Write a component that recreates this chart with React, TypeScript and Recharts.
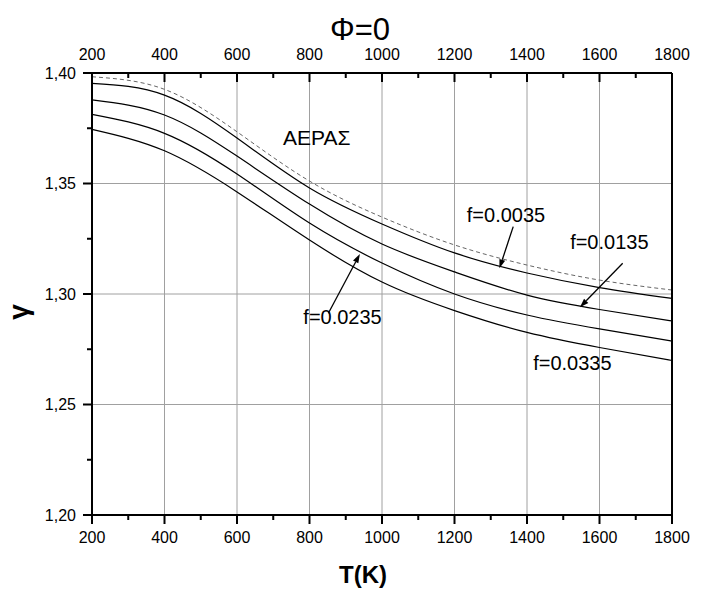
import React from 'react';
import {
  LineChart,
  Line,
  XAxis,
  YAxis,
  CartesianGrid,
  ReferenceLine,
  ReferenceDot,
  Label,
} from 'recharts';

// ---- data ----
const temperatures = [200, 400, 600, 800, 1000, 1200, 1400, 1600, 1800];
const gammaAir = [1.3983, 1.3926, 1.3734, 1.3511, 1.3348, 1.3222, 1.3131, 1.3063, 1.3018];
const gammaF0035 = [1.3953, 1.39, 1.3706, 1.348, 1.3317, 1.3186, 1.3095, 1.3029, 1.298];
const gammaF0135 = [1.3878, 1.381, 1.3624, 1.3407, 1.3226, 1.31, 1.2995, 1.293, 1.2878];
const gammaF0235 = [1.3813, 1.3727, 1.3543, 1.3321, 1.314, 1.3, 1.2905, 1.2842, 1.2787];
const gammaF0335 = [1.3745, 1.3648, 1.3462, 1.3244, 1.3054, 1.2925, 1.2826, 1.2758, 1.2699];

const xTicks = [200, 300, 400, 500, 600, 700, 800, 900, 1000, 1100, 1200, 1300, 1400, 1500, 1600, 1700, 1800];
const xMajorTicks = [200, 400, 600, 800, 1000, 1200, 1400, 1600, 1800];
const yTicks = [1.2, 1.225, 1.25, 1.275, 1.3, 1.325, 1.35, 1.375, 1.4];
const yMajorTicks = [1.2, 1.25, 1.3, 1.35, 1.4];

const titleText = 'Φ=0';
const xTitle = 'T(K)';
const yTitle = 'γ';

const labelTexts = ['ΑΕΡΑΣ', 'f=0.0035', 'f=0.0135', 'f=0.0235', 'f=0.0335'];
const labelT = [727, 1234, 1519, 783, 1417];
const labelG = [1.3674, 1.3328, 1.3204, 1.2864, 1.2656];
const labelSize = [21, 20, 20, 20, 20];

const arrowFromT = [1362, 1664, 852];
const arrowFromG = [1.3305, 1.3139, 1.2913];
const arrowToT = [1324, 1546, 939];
const arrowToG = [1.3116, 1.294, 1.3181];

const rows = temperatures.map((T, i) => ({
  T,
  air: gammaAir[i],
  f1: gammaF0035[i],
  f2: gammaF0135[i],
  f3: gammaF0235[i],
  f4: gammaF0335[i],
}));

const FONT = 'Liberation Sans, Arial, Helvetica, sans-serif';

const isMajorX = (v: number) => xMajorTicks.includes(v);
const isMajorY = (v: number) => yMajorTicks.some((m) => Math.abs(m - v) < 1e-9);
const fmtY = (v: number) => v.toFixed(2).replace('.', ',');

const BottomTick = (props: any) => {
  const { x, y, payload } = props;
  const v = payload.value;
  const major = isMajorX(v);
  return (
    <g>
      <line x1={x} y1={y} x2={x} y2={y + (major ? 9 : 5)} stroke="#000" strokeWidth={2} />
      {major && (
        <text x={x} y={y + 28} textAnchor="middle" fontSize={16} fontFamily={FONT} fill="#000">
          {v}
        </text>
      )}
    </g>
  );
};

const TopTick = (props: any) => {
  const { x, y, payload } = props;
  const v = payload.value;
  const major = isMajorX(v);
  return (
    <g>
      <line x1={x} y1={y} x2={x} y2={y + (major ? 9 : 5)} stroke="#000" strokeWidth={2} />
      {major && (
        <text x={x} y={y - 13} textAnchor="middle" fontSize={16} fontFamily={FONT} fill="#000">
          {v}
        </text>
      )}
    </g>
  );
};

const LeftTick = (props: any) => {
  const { x, y, payload } = props;
  const v = payload.value;
  const major = isMajorY(v);
  return (
    <g>
      <line x1={x - (major ? 9 : 5)} y1={y} x2={x} y2={y} stroke="#000" strokeWidth={2} />
      {major && (
        <text x={x - 16} y={y + 5.7} textAnchor="end" fontSize={16} fontFamily={FONT} fill="#000">
          {fmtY(v)}
        </text>
      )}
    </g>
  );
};

const RightTick = (props: any) => {
  const { x, y, payload } = props;
  const v = payload.value;
  const major = isMajorY(v);
  return (
    <g>
      <line x1={x - (major ? 9 : 5)} y1={y} x2={x} y2={y} stroke="#000" strokeWidth={2} />
      {major && (
        <text x={x + 11} y={y + 5.7} textAnchor="start" fontSize={16} fontFamily={FONT} fill="#000">
          {fmtY(v)}
        </text>
      )}
    </g>
  );
};

const arrowShape = (p: any) => {
  const { x1, y1, x2, y2 } = p;
  const dx = x2 - x1;
  const dy = y2 - y1;
  const len = Math.sqrt(dx * dx + dy * dy) || 1;
  const ux = dx / len;
  const uy = dy / len;
  const hl = 9;
  const hw = 3;
  const bx = x2 - ux * hl;
  const by = y2 - uy * hl;
  const pts = `${x2},${y2} ${bx - uy * hw},${by + ux * hw} ${bx + uy * hw},${by - ux * hw}`;
  return (
    <g>
      <line x1={x1} y1={y1} x2={bx} y2={by} stroke="#000" strokeWidth={1.3} />
      <polygon points={pts} fill="#000" />
    </g>
  );
};

export default function App() {
  return (
    <div style={{ position: 'absolute', left: 0, top: 0, width: 718, height: 591, background: '#fff' }}>
      <LineChart
        width={718}
        height={591}
        data={rows}
        margin={{ top: 33, right: 6, bottom: 36, left: 32 }}
      >
        <CartesianGrid
          xAxisId="b"
          yAxisId="l"
          stroke="#a0a0a0"
          strokeWidth={1}
          verticalValues={xMajorTicks}
          horizontalValues={yMajorTicks}
        />
        <XAxis
          xAxisId="b"
          dataKey="T"
          type="number"
          orientation="bottom"
          domain={[200, 1800]}
          ticks={xTicks}
          interval={0}
          height={40}
          tickSize={0}
          tickMargin={0}
          tickLine={false}
          axisLine={{ stroke: '#000', strokeWidth: 2 }}
          tick={<BottomTick />}
        >
          <Label
            content={(p: any) => {
              const vb = p.viewBox;
              return (
                <text
                  x={vb.x + vb.width / 2 - 19}
                  y={vb.y + 68}
                  textAnchor="middle"
                  fontSize={24}
                  fontWeight="bold"
                  fontFamily={FONT}
                  fill="#000"
                >
                  {xTitle}
                </text>
              );
            }}
          />
        </XAxis>
        <XAxis
          xAxisId="t"
          dataKey="T"
          type="number"
          orientation="top"
          domain={[200, 1800]}
          ticks={xTicks}
          interval={0}
          height={40}
          tickSize={0}
          tickMargin={0}
          tickLine={false}
          axisLine={{ stroke: '#000', strokeWidth: 2 }}
          tick={<TopTick />}
        >
          <Label
            content={(p: any) => {
              const vb = p.viewBox;
              return (
                <text
                  x={vb.x + vb.width / 2 - 22}
                  y={vb.y + 7}
                  textAnchor="middle"
                  fontSize={31}
                  fontFamily={FONT}
                  fill="#000"
                >
                  {titleText}
                </text>
              );
            }}
          />
        </XAxis>
        <YAxis
          yAxisId="l"
          type="number"
          orientation="left"
          domain={[1.2, 1.4]}
          ticks={yTicks}
          interval={0}
          width={60}
          tickSize={0}
          tickMargin={0}
          tickLine={false}
          axisLine={{ stroke: '#000', strokeWidth: 2 }}
          tick={<LeftTick />}
        >
          <Label
            content={(p: any) => {
              const vb = p.viewBox;
              const cx = 18;
              const cy = vb.y + vb.height / 2 + 18;
              return (
                <text
                  x={cx}
                  y={cy}
                  textAnchor="middle"
                  dominantBaseline="central"
                  transform={`rotate(-90, ${cx}, ${cy})`}
                  fontSize={28}
                  fontWeight="bold"
                  fontFamily={FONT}
                  fill="#000"
                >
                  {yTitle}
                </text>
              );
            }}
          />
        </YAxis>
        <YAxis
          yAxisId="r"
          type="number"
          orientation="right"
          domain={[1.2, 1.4]}
          ticks={yTicks}
          interval={0}
          width={40}
          tickSize={0}
          tickMargin={0}
          tickLine={false}
          axisLine={{ stroke: '#000', strokeWidth: 2 }}
          tick={<RightTick />}
        />

        <Line xAxisId="b" yAxisId="l" type="natural" dataKey="air" stroke="#666" strokeWidth={1} strokeDasharray="4 3" dot={false} isAnimationActive={false} />
        <Line xAxisId="b" yAxisId="l" type="natural" dataKey="f1" stroke="#000" strokeWidth={1.2} dot={false} isAnimationActive={false} />
        <Line xAxisId="b" yAxisId="l" type="natural" dataKey="f2" stroke="#000" strokeWidth={1.2} dot={false} isAnimationActive={false} />
        <Line xAxisId="b" yAxisId="l" type="natural" dataKey="f3" stroke="#000" strokeWidth={1.2} dot={false} isAnimationActive={false} />
        <Line xAxisId="b" yAxisId="l" type="natural" dataKey="f4" stroke="#000" strokeWidth={1.2} dot={false} isAnimationActive={false} />

        {arrowFromT.map((t, i) => (
          <ReferenceLine
            key={`arrow-${i}`}
            xAxisId="b"
            yAxisId="l"
            segment={[
              { x: t, y: arrowFromG[i] },
              { x: arrowToT[i], y: arrowToG[i] },
            ]}
            shape={arrowShape}
            ifOverflow="visible"
          />
        ))}

        {labelTexts.map((txt, i) => (
          <ReferenceDot
            key={`lbl-${i}`}
            xAxisId="b"
            yAxisId="l"
            x={labelT[i]}
            y={labelG[i]}
            r={0}
            ifOverflow="visible"
            shape={(p: any) => (
              <text x={p.cx} y={p.cy} textAnchor="start" fontSize={labelSize[i]} fontFamily={FONT} fill="#000">
                {txt}
              </text>
            )}
          />
        ))}
      </LineChart>
    </div>
  );
}
